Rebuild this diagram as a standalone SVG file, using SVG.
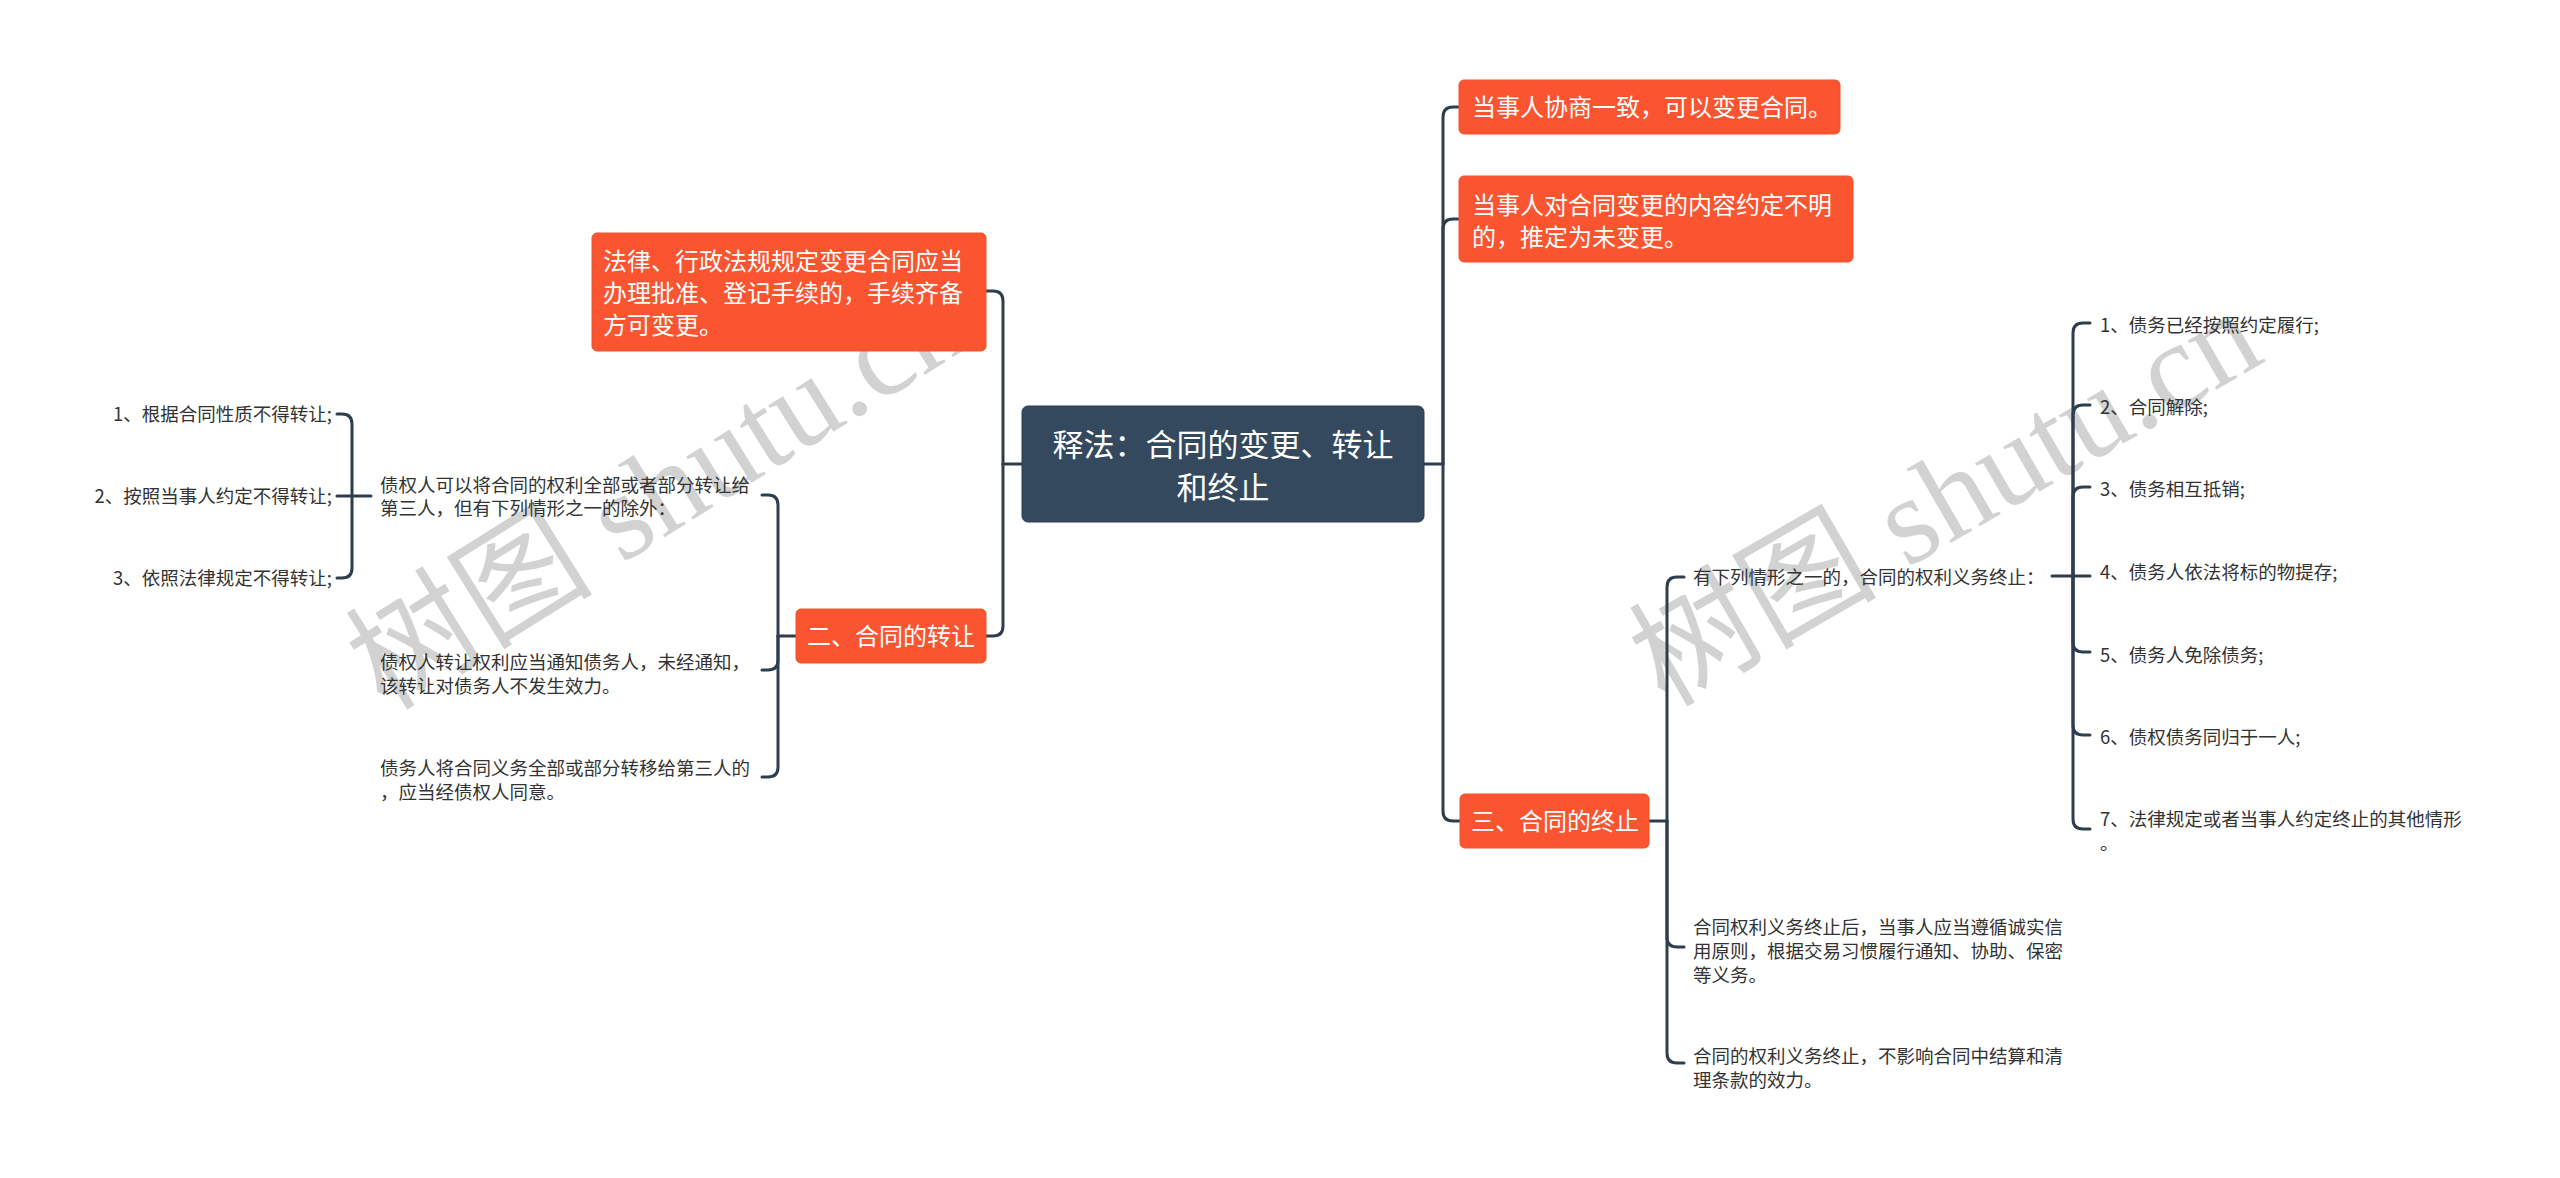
<svg xmlns="http://www.w3.org/2000/svg" width="2560" height="1178" viewBox="0 0 2560 1178">
<style>
.wm{font-family:"Liberation Serif","Noto Sans CJK SC",serif;font-size:124px;fill:#d2d2d2;}
.ob{fill:#fb5431;stroke:#f0502c;stroke-width:1;}
.ot{font-family:"Noto Sans CJK SC","Noto Sans",sans-serif;font-size:24px;fill:#ffffff;}
.ct{font-family:"Noto Sans CJK SC","Noto Sans",sans-serif;font-size:31px;fill:#ffffff;text-anchor:middle;}
.st{font-family:"Noto Sans CJK SC","Noto Sans",sans-serif;font-size:18.5px;fill:#333333;}
.ln{fill:none;stroke:#2e3e4e;stroke-width:3;stroke-linecap:round;}
</style>
<rect width="2560" height="1178" fill="#ffffff"/>
<g id="watermarks">
<text class="wm" x="385" y="712" transform="rotate(-32 385 712)">树图 shutu.cn</text>
<text class="wm" x="1665" y="708" transform="rotate(-30 1665 708)">树图 shutu.cn</text>
</g>
<g id="connectors">
<path class="ln" d="M1424,464 H1443"/>
<path class="ln" d="M1443,464 V117 Q1443,107 1453,107 H1459"/>
<path class="ln" d="M1443,464 V229 Q1443,219 1453,219 H1459"/>
<path class="ln" d="M1443,464 V811 Q1443,821 1453,821 H1460"/>
<path class="ln" d="M1022,464 H1003"/>
<path class="ln" d="M1003,464 V301 Q1003,291 993,291 H986"/>
<path class="ln" d="M1003,464 V626 Q1003,636 993,636 H986"/>
<path class="ln" d="M796,636 H778"/>
<path class="ln" d="M778,636 V505 Q778,495 768,495 H762"/>
<path class="ln" d="M778,636 V660 Q778,670 768,670 H762"/>
<path class="ln" d="M778,636 V767 Q778,777 768,777 H762"/>
<path class="ln" d="M371,496 H352"/>
<path class="ln" d="M352,496 V424 Q352,414 342,414 H337"/>
<path class="ln" d="M352,496 H337"/>
<path class="ln" d="M352,496 V568 Q352,578 342,578 H337"/>
<path class="ln" d="M1649,821 H1667"/>
<path class="ln" d="M1667,821 V587 Q1667,577 1677,577 H1684"/>
<path class="ln" d="M1667,821 V937 Q1667,947 1677,947 H1684"/>
<path class="ln" d="M1667,821 V1053 Q1667,1063 1677,1063 H1684"/>
<path class="ln" d="M2052,576 H2073"/>
<path class="ln" d="M2073,576 V333 Q2073,323 2083,323 H2090"/>
<path class="ln" d="M2073,576 V415 Q2073,405 2083,405 H2090"/>
<path class="ln" d="M2073,576 V497 Q2073,487 2083,487 H2090"/>
<path class="ln" d="M2073,576 H2090"/>
<path class="ln" d="M2073,576 V642 Q2073,652 2083,652 H2090"/>
<path class="ln" d="M2073,576 V725 Q2073,735 2083,735 H2090"/>
<path class="ln" d="M2073,576 V819 Q2073,829 2083,829 H2090"/>
</g>
<g id="root">
<rect x="1022" y="406" width="402" height="116" rx="6" fill="#34495e" stroke="#2c3e50" stroke-width="1"/>
<text class="ct" x="1223" y="456">释法：合同的变更、转让</text>
<text class="ct" x="1223" y="499">和终止</text>
</g>
<g id="n-law">
<rect class="ob" x="592" y="233" width="394" height="118" rx="5"/>
<text class="ot" x="603" y="270">法律、行政法规规定变更合同应当</text>
<text class="ot" x="603" y="302">办理批准、登记手续的，手续齐备</text>
<text class="ot" x="603" y="334">方可变更。</text>
</g>
<g id="n-transfer">
<rect class="ob" x="796" y="609" width="190" height="54" rx="5"/>
<text class="ot" x="891" y="645" text-anchor="middle">二、合同的转让</text>
</g>
<g id="n-transfer-a">
<text class="st" x="380" y="492">债权人可以将合同的权利全部或者部分转让给</text>
<text class="st" x="380" y="515">第三人，但有下列情形之一的除外：</text>
</g>
<g id="n-a1"><text class="st" x="332" y="421" text-anchor="end">1、根据合同性质不得转让;</text></g>
<g id="n-a2"><text class="st" x="332" y="503" text-anchor="end">2、按照当事人约定不得转让;</text></g>
<g id="n-a3"><text class="st" x="332" y="585" text-anchor="end">3、依照法律规定不得转让;</text></g>
<g id="n-transfer-b">
<text class="st" x="380" y="669">债权人转让权利应当通知债务人，未经通知，</text>
<text class="st" x="380" y="693">该转让对债务人不发生效力。</text>
</g>
<g id="n-transfer-c">
<text class="st" x="380" y="775">债务人将合同义务全部或部分转移给第三人的</text>
<text class="st" x="380" y="799">，应当经债权人同意。</text>
</g>
<g id="n-change1">
<rect class="ob" x="1459" y="80" width="381" height="54" rx="5"/>
<text class="ot" x="1472" y="116">当事人协商一致，可以变更合同。</text>
</g>
<g id="n-change2">
<rect class="ob" x="1459" y="176" width="394" height="86" rx="5"/>
<text class="ot" x="1472" y="214">当事人对合同变更的内容约定不明</text>
<text class="ot" x="1472" y="246">的，推定为未变更。</text>
</g>
<g id="n-end">
<rect class="ob" x="1460" y="794" width="189" height="54" rx="5"/>
<text class="ot" x="1555" y="830" text-anchor="middle">三、合同的终止</text>
</g>
<g id="n-end-a">
<text class="st" x="1693" y="584">有下列情形之一的，合同的权利义务终止：</text>
</g>
<g id="n-end-b">
<text class="st" x="1693" y="934">合同权利义务终止后，当事人应当遵循诚实信</text>
<text class="st" x="1693" y="958">用原则，根据交易习惯履行通知、协助、保密</text>
<text class="st" x="1693" y="982">等义务。</text>
</g>
<g id="n-end-c">
<text class="st" x="1693" y="1063">合同的权利义务终止，不影响合同中结算和清</text>
<text class="st" x="1693" y="1087">理条款的效力。</text>
</g>
<g id="n-e1"><text class="st" x="2100" y="332">1、债务已经按照约定履行;</text></g>
<g id="n-e2"><text class="st" x="2100" y="414">2、合同解除;</text></g>
<g id="n-e3"><text class="st" x="2100" y="496">3、债务相互抵销;</text></g>
<g id="n-e4"><text class="st" x="2100" y="579">4、债务人依法将标的物提存;</text></g>
<g id="n-e5"><text class="st" x="2100" y="662">5、债务人免除债务;</text></g>
<g id="n-e6"><text class="st" x="2100" y="744">6、债权债务同归于一人;</text></g>
<g id="n-e7">
<text class="st" x="2100" y="826">7、法律规定或者当事人约定终止的其他情形</text>
<text class="st" x="2100" y="850">。</text>
</g>
</svg>
